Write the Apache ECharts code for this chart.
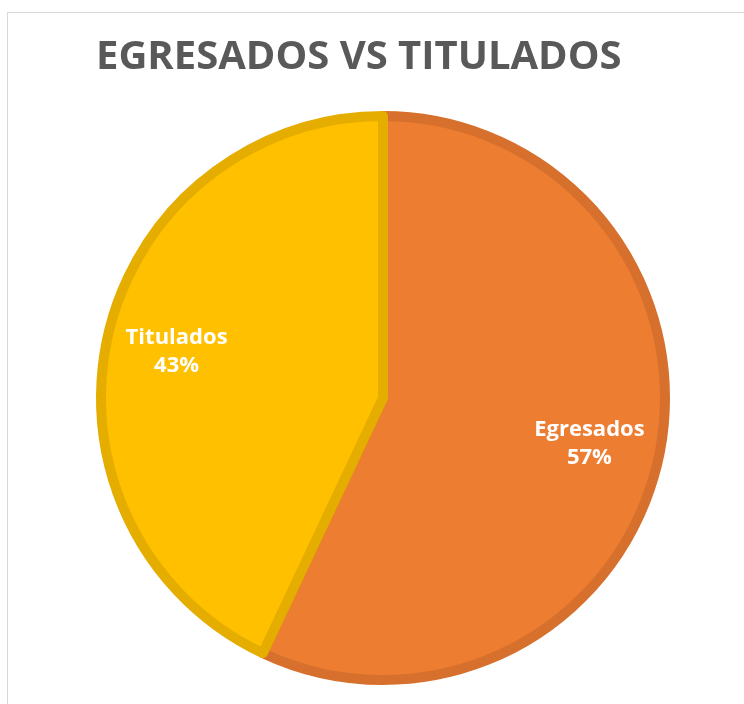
<!DOCTYPE html>
<html>
<head>
<meta charset="utf-8">
<script src="https://cdn.jsdelivr.net/npm/echarts@6/dist/echarts.min.js"></script>
<style>
  html, body { margin: 0; padding: 0; background: #fff; }
  #frame { position: absolute; left: 7px; top: 12px; width: 800px; height: 800px; border: 1px solid #d9d9d9; box-sizing: border-box; }
  #chart { position: absolute; left: 0; top: 0; width: 744px; height: 704px; }
</style>
</head>
<body>
<div id="frame"></div>
<div id="chart"></div>
<script>
// datos del grafico
var categorias = ['Egresados', 'Titulados'];
var valores = [57, 43];
var colores = ['#ED7D31', '#FFC000'];
var bordes = ['#D6702C', '#E5AD00'];

var chart = echarts.init(document.getElementById('chart'));

var datosPie = categorias.map(function(c, i) {
  return {
    name: c,
    value: valores[i],
    itemStyle: { color: colores[i], borderColor: bordes[i] }
  };
});

// serie transparente solo para colocar las etiquetas mas afuera
var datosEtiqueta = categorias.map(function(c, i) {
  return { name: c, value: valores[i] };
});

var option = {
  animation: false,
  title: {
    text: 'EGRESADOS VS TITULADOS',
    left: 91,
    top: 33,
    textStyle: {
      fontFamily: 'Open Sans',
      fontWeight: 'bold',
      fontSize: 40,
      color: '#595959'
    }
  },
  series: [
    {
      type: 'pie',
      center: [383, 398],
      radius: 282,
      startAngle: 90,
      clockwise: true,
      label: { show: false },
      labelLine: { show: false },
      itemStyle: { borderWidth: 10 },
      data: datosPie
    },
    {
      type: 'pie',
      center: [383, 398],
      radius: [130, 287],
      startAngle: 90,
      clockwise: true,
      silent: true,
      itemStyle: { color: 'rgba(0,0,0,0)' },
      label: {
        show: true,
        position: 'inside',
        formatter: '{b}\n{d}%',
        color: '#fff',
        fontFamily: 'Open Sans',
        fontWeight: 'bold',
        fontSize: 22,
        lineHeight: 28
      },
      labelLine: { show: false },
      data: datosEtiqueta
    }
  ]
};

chart.setOption(option);
</script>
</body>
</html>
